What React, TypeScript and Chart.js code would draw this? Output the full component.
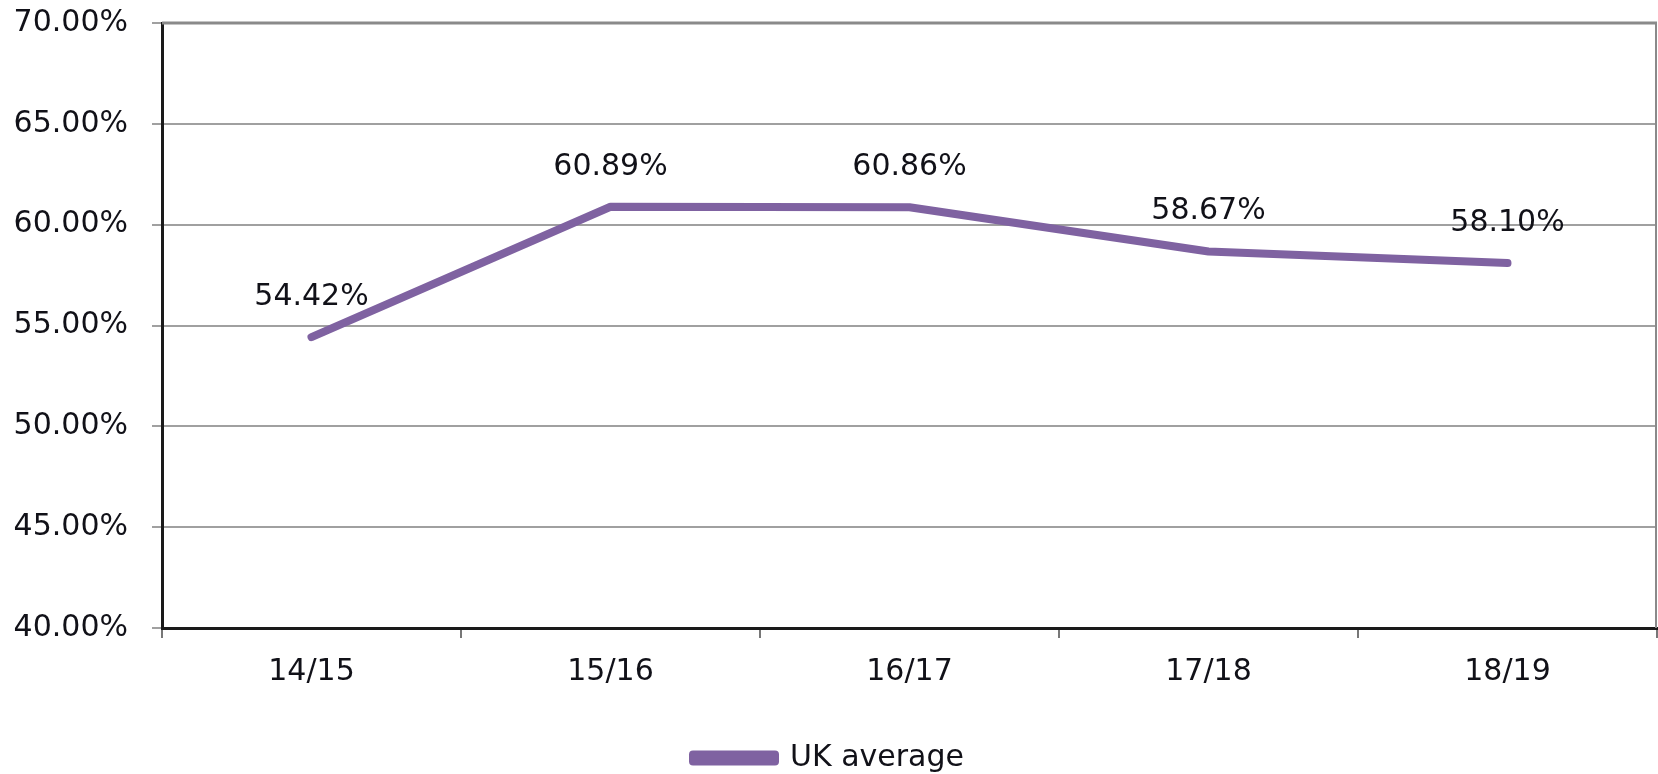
import React, { useEffect, useRef } from "react";
import { Chart, registerables } from "chart.js";

Chart.register(...registerables);

const categories = ["14/15", "15/16", "16/17", "17/18", "18/19"];
const ukAverage = [54.42, 60.89, 60.86, 58.67, 58.1];
const seriesName = "UK average";
const yMin = 40;
const yMax = 70;
const yStep = 5;

const FONT = "'DejaVu Sans', sans-serif";
const TEXT = "#111118";
const PURPLE = "#7f62a1";

const dataLabelPlugin = {
  id: "dataLabels",
  afterDatasetsDraw(chart: any) {
    const ctx = chart.ctx;
    const meta = chart.getDatasetMeta(0);
    const data = chart.data.datasets[0].data as number[];
    ctx.save();
    ctx.font = `30px ${FONT}`;
    ctx.fillStyle = TEXT;
    ctx.textAlign = "center";
    ctx.textBaseline = "middle";
    meta.data.forEach((pt: any, i: number) => {
      ctx.fillText(data[i].toFixed(2) + "%", pt.x, pt.y - 40);
    });
    ctx.restore();
  },
};

const framePlugin = {
  id: "frame",
  beforeDatasetsDraw(chart: any) {
    const { ctx, chartArea } = chart;
    ctx.save();
    ctx.strokeStyle = "#8a8a8a";
    ctx.lineWidth = 2;
    ctx.beginPath();
    ctx.moveTo(chartArea.right - 1, chartArea.top);
    ctx.lineTo(chartArea.right - 1, chartArea.bottom);
    ctx.stroke();
    ctx.lineWidth = 3;
    ctx.beginPath();
    ctx.moveTo(chartArea.left, chartArea.top);
    ctx.lineTo(chartArea.right, chartArea.top);
    ctx.stroke();
    ctx.restore();
  },
};

export default function App() {
  const ref = useRef<HTMLCanvasElement>(null);
  useEffect(() => {
    document.body.style.margin = "0";
    const chart = new Chart(ref.current as HTMLCanvasElement, {
      type: "line",
      data: {
        labels: categories,
        datasets: [
          {
            label: seriesName,
            data: ukAverage,
            borderColor: PURPLE,
            backgroundColor: PURPLE,
            borderWidth: 8,
            pointRadius: 0,
            tension: 0,
            borderCapStyle: "round",
            borderJoinStyle: "round",
          },
        ],
      },
      options: {
        responsive: false,
        animation: false,
        layout: { padding: { left: 0, right: 1, top: 23, bottom: -9 } },
        plugins: {
          tooltip: { enabled: false },
          legend: {
            position: "bottom",
            labels: {
              font: { family: FONT, size: 30 },
              color: TEXT,
              boxWidth: 82,
              boxHeight: 7,
              padding: 0,
            },
          },
        },
        scales: {
          x: {
            type: "category",
            offset: true,
            grid: {
              offset: true,
              drawOnChartArea: false,
              drawTicks: true,
              tickLength: 10,
              color: "#777",
              lineWidth: 2,
            },
            border: { color: "#1a1a1a", width: 3 },
            ticks: {
              font: { family: FONT, size: 30 },
              color: TEXT,
              padding: 16,
            },
            afterFit(scale: any) {
              scale.height = 115;
            },
          },
          y: {
            min: yMin,
            max: yMax,
            grid: {
              color: "#a0a0a0",
              lineWidth: 2,
              drawTicks: true,
              tickLength: 10,
            },
            border: { color: "#1a1a1a", width: 3 },
            ticks: {
              stepSize: yStep,
              font: { family: FONT, size: 30 },
              color: TEXT,
              padding: 24,
              callback: (v: any) => Number(v).toFixed(2) + "%",
            },
            afterFit(scale: any) {
              scale.width = 162;
              scale.paddingTop = 0;
              scale.paddingBottom = 0;
            },
          },
        },
      },
      plugins: [framePlugin, dataLabelPlugin],
    });
    return () => chart.destroy();
  }, []);
  return (
    <div style={{ position: "absolute", left: 0, top: 0, width: 1658, height: 774, background: "#fff" }}>
      <canvas ref={ref} width={1658} height={774} />
    </div>
  );
}
